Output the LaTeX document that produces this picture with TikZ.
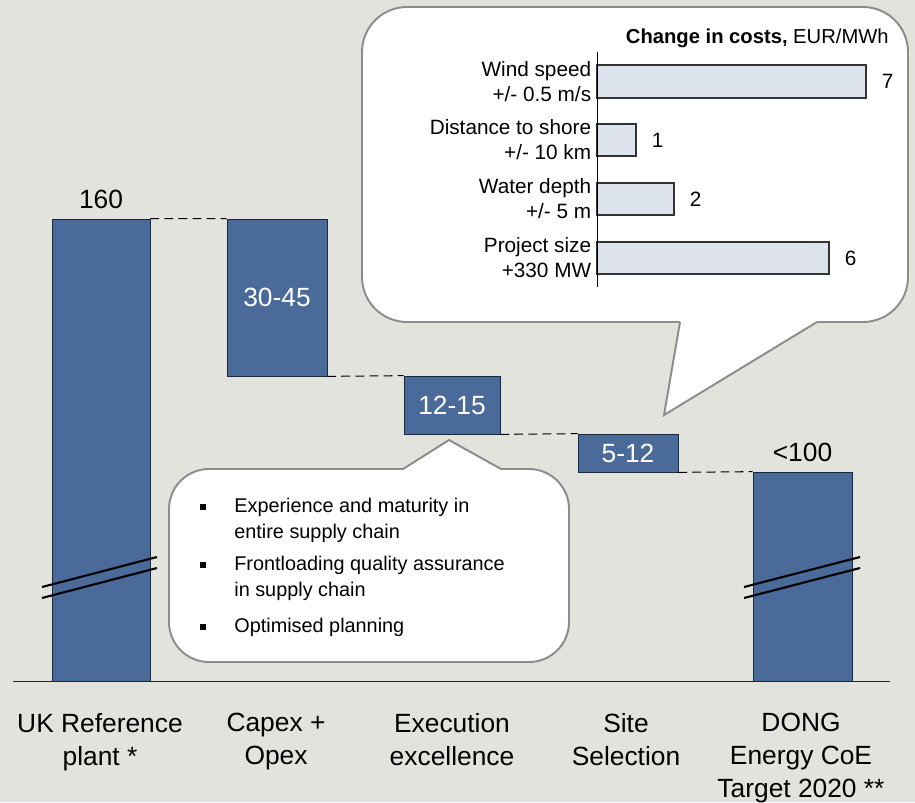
\documentclass[tikz,border=0pt]{standalone}
\usepackage{fontspec}
\setmainfont{Liberation Sans}
\usetikzlibrary{positioning,fit}
\definecolor{bgGray}{RGB}{227,227,222}
\definecolor{barBlue}{RGB}{74,106,153}
\definecolor{barEdge}{RGB}{30,40,60}
\definecolor{chartFill}{RGB}{220,227,237}
\definecolor{calloutEdge}{RGB}{140,140,140}
\tikzset{
  bar/.style={draw=barEdge, fill=barBlue, inner sep=0pt},
  bartext/.style={text=white, inner sep=0pt, font=\fontsize{15}{18}\selectfont},
  barvalue/.style={inner sep=0pt, font=\fontsize{15}{18}\selectfont},
  catlabel/.style={align=center, anchor=north, inner sep=0pt, font=\fontsize{15}{18.7}\selectfont},
  stepline/.style={dash pattern=on 5pt off 3pt, black, line width=0.6pt},
  breakmark/.style={black, line width=1.2pt},
  callout/.style={draw=calloutEdge, fill=white, line width=1.1pt},
  calloutside/.style={draw=calloutEdge, line width=1.1pt},
  chartbar/.style={draw=black!80, fill=chartFill, inner sep=0pt, line width=0.6pt},
  chartlabel/.style={align=right, inner sep=0pt, font=\fontsize{11.8}{14.2}\selectfont},
  chartvalue/.style={inner sep=0pt, font=\fontsize{11.8}{14.2}\selectfont},
  bulletbox/.style={fill=black, inner sep=0pt, minimum size=0.11cm},
  itemtext/.style={anchor=west, align=left, inner sep=0pt, font=\fontsize{11.3}{14.7}\selectfont}
}
\begin{document}
\begin{tikzpicture}[x=0.02cm, y=-0.02cm]
  % canvas
  \fill[bgGray] (0,0) rectangle (915,802);
  \useasboundingbox (0,0) rectangle (915,802);

  % waterfall bars
  \node[bar, fit={(52,219) (150,681)}] (ref) {};
  \node[bar, fit={(227,219) (327,376)}] (capex) {};
  \node[bar, fit={(404,376) (500,434)}] (exec) {};
  \node[bar, fit={(578,434) (678,472)}] (site) {};
  \node[bar, fit={(753,472) (852,681)}] (target) {};

  \node[bartext] (tcapex) at (capex.center) {30-45};
  \node[bartext] (texec) at (exec.center) {12-15};
  \node[bartext] (tsite) at (site.center) {5-12};

  \draw[stepline] (ref.north east) -- (capex.north west);% 160 to capex
  \draw[stepline] (capex.south east) -- (exec.north west);
  \draw[stepline] (exec.south east) -- (site.north west);
  \draw[stepline] (site.south east) -- (target.north west);% to target

  \draw[black!85, thin] (13,681) -- (890,681);% base line

  % axis breaks
  \draw[breakmark] (42,587) -- (157,557);
  \draw[breakmark] (42,598) -- (157,568);
  \draw[breakmark] (744,587) -- (860,557);
  \draw[breakmark] (744,598) -- (860,568);

  \node[barvalue, above=0.2cm of ref] (v160) {160};
  \node[barvalue, above=0.2cm of target] (v100) {<100};

  \node[catlabel] (lref) at (100,713) {UK Reference\\plant *};
  \node[catlabel] (lcapex) at (276,713) {Capex +\\Opex};
  \node[catlabel] (lexec) at (452,713) {Execution\\excellence};
  \node[catlabel] (lsite) at (626,713) {Site\\Selection};
  \node[catlabel] (ltarget) at (801,713) {DONG\\Energy CoE\\Target 2020 **};

  % upper callout
  \draw[callout, rounded corners=0.9cm] (362,7) rectangle (908,322);
  \fill[white] (680,317) -- (817,317) -- (817,322) -- (664,415) -- (680,322) -- cycle;
  \draw[calloutside] (680,322) -- (664,415) -- (817,322);

  \node[anchor=east, inner sep=0pt, font=\fontsize{11.5}{14}\selectfont] (title) at (889,38) {\textbf{Change in costs,} EUR/MWh};

  \node[chartbar, fit={(597,65) (866,98)}] (wind) {};
  \node[chartbar, fit={(597,124) (636,156)}] (shore) {};
  \node[chartbar, fit={(597,183) (674,215)}] (depth) {};
  \node[chartbar, fit={(597,242) (829,274)}] (size) {};
  \draw[black, thin] (597,52) -- (597,287);% axis

  \node[chartlabel, left=0.1cm of wind] (lwind) {Wind speed\\+/- 0.5 m/s};
  \node[chartlabel, left=0.1cm of shore] (lshore) {Distance to shore\\+/- 10 km};
  \node[chartlabel, left=0.1cm of depth] (ldepth) {Water depth\\+/- 5 m};
  \node[chartlabel, left=0.1cm of size] (lsize) {Project size\\+330 MW};

  \node[chartvalue, right=0.3cm of wind] (vwind) {7};
  \node[chartvalue, right=0.3cm of shore] (vshore) {1};
  \node[chartvalue, right=0.3cm of depth] (vdepth) {2};
  \node[chartvalue, right=0.3cm of size] (vsize) {6};

  % lower callout
  \draw[callout, rounded corners=0.8cm] (169,469) rectangle (569,662);
  \fill[white] (403,473) -- (403,469) -- (449,440) -- (501,469) -- (501,473) -- cycle;
  \draw[calloutside] (403,469) -- (449,440) -- (501,469);

  \node[bulletbox] (b1) at (203,507) {};
  \node[bulletbox] (b2) at (203,565) {};
  \node[bulletbox] (b3) at (203,627) {};
  \node[itemtext] (t1) at (234,520) {Experience and maturity in\\entire supply chain};
  \node[itemtext] (t2) at (234,578) {Frontloading quality assurance\\in supply chain};
  \node[itemtext] (t3) at (234,627) {Optimised planning};
\end{tikzpicture}
\end{document}
